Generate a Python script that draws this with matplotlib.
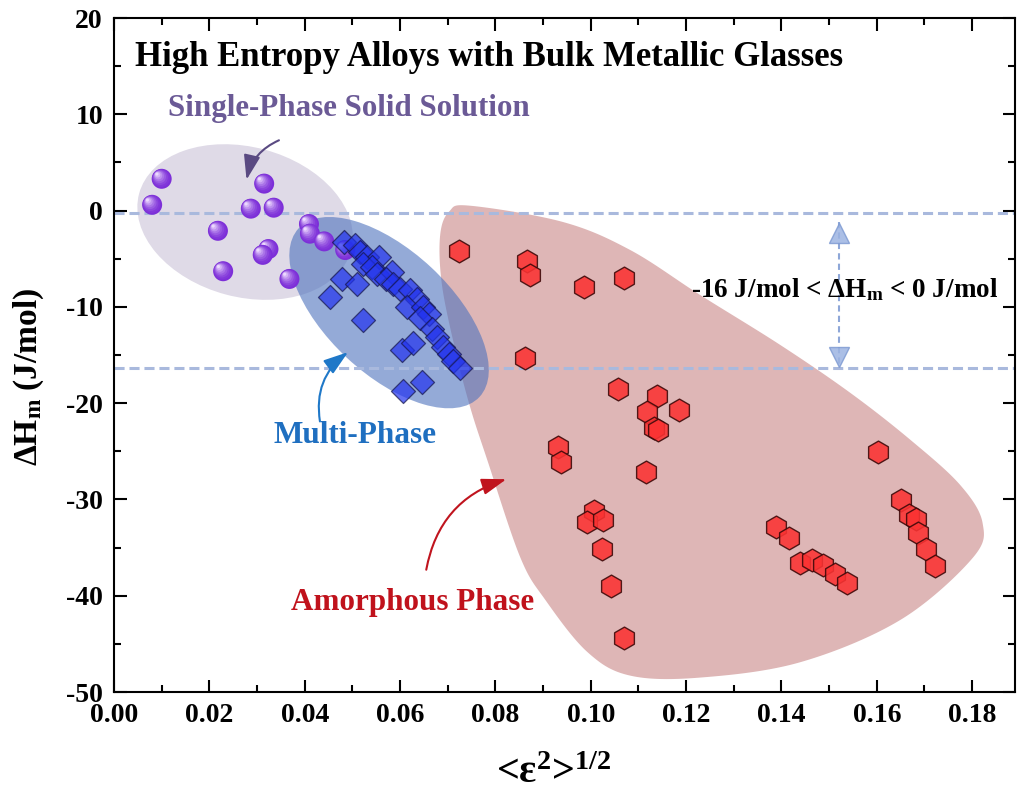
import numpy as np
import matplotlib
matplotlib.use("Agg")
import matplotlib.pyplot as plt
from matplotlib import transforms
from matplotlib.patches import Ellipse, Polygon, FancyArrowPatch
from matplotlib.ticker import MultipleLocator, FormatStrFormatter
from matplotlib.colors import to_rgb

# ---- data -----------------------------------------------------------------
# single-phase solid solution alloys
sphere_x = [0.0100, 0.0080, 0.0315, 0.0287, 0.0335, 0.0218, 0.0409, 0.0411,
            0.0441, 0.0324, 0.0312, 0.0229, 0.0368, 0.0485]
sphere_y = [3.3, 0.6, 2.8, 0.2, 0.3, -2.1, -1.4, -2.4,
            -3.2, -4.0, -4.6, -6.3, -7.1, -4.1]

# multi-phase alloys
dia_x = [0.0483, 0.0506, 0.0516, 0.0530, 0.0555, 0.0523, 0.0541, 0.0551,
         0.0583, 0.0571, 0.0586, 0.0600, 0.0478, 0.0509, 0.0453, 0.0621,
         0.0635, 0.0614, 0.0649, 0.0660, 0.0642, 0.0523, 0.0667, 0.0677,
         0.0691, 0.0702, 0.0712, 0.0726, 0.0604, 0.0628, 0.0607, 0.0646]
dia_y = [-3.3, -3.6, -4.3, -4.8, -4.8, -5.5, -5.9, -6.6,
         -6.4, -7.1, -7.6, -8.1, -7.1, -7.6, -9.0, -8.3,
         -9.2, -10.0, -10.0, -10.7, -11.2, -11.4, -12.3, -13.1,
         -14.2, -14.9, -15.6, -16.4, -14.5, -13.8, -18.7, -17.8]

# bulk metallic glasses (amorphous)
hex_x = [0.0723, 0.0866, 0.0872, 0.0985, 0.1069, 0.0863, 0.1057, 0.1138,
         0.1118, 0.1186, 0.1132, 0.1142, 0.0932, 0.0937, 0.1116, 0.1006,
         0.0992, 0.1026, 0.1023, 0.1042, 0.1069, 0.1603, 0.1651, 0.1667,
         0.1683, 0.1686, 0.1704, 0.1723, 0.1389, 0.1415, 0.1440, 0.1464,
         0.1487, 0.1513, 0.1538]
hex_y = [-4.2, -5.2, -6.7, -7.9, -7.0, -15.3, -18.5, -19.3,
         -20.9, -20.7, -22.6, -22.8, -24.6, -26.1, -27.1, -31.2,
         -32.3, -32.1, -35.2, -39.0, -44.4, -25.1, -30.1, -31.6,
         -32.0, -33.5, -35.1, -36.9, -32.9, -34.0, -36.6, -36.3,
         -36.8, -37.7, -38.7]

# band limits of the mixing enthalpy window
band_top = -0.3
band_bottom = -16.3

# outline of the amorphous-phase region
amorph_x = [0.0748, 0.0942, 0.1083, 0.1230, 0.1398, 0.1545, 0.1671, 0.1775,
            0.1822, 0.1801, 0.1650, 0.1440, 0.1230, 0.1083, 0.0993, 0.0905,
            0.0852, 0.0783, 0.0747, 0.0716, 0.0688, 0.0684, 0.0703]
amorph_y = [0.50, -1.19, -4.10, -8.78, -13.97, -18.95, -23.83, -28.50,
            -32.45, -36.09, -42.5, -46.9, -48.5, -48.3, -45.85, -40.45,
            -35.99, -25.9, -20.4, -14.49, -7.74, -2.64, -0.10]

# ---- style ------------------------------------------------------------------
plt.rcParams["font.family"] = ["Liberation Serif", "DejaVu Serif"]
plt.rcParams["font.weight"] = "bold"
plt.rcParams["mathtext.fontset"] = "custom"
plt.rcParams["mathtext.rm"] = "Liberation Serif:bold"
plt.rcParams["mathtext.bf"] = "Liberation Serif:bold"
plt.rcParams["mathtext.it"] = "Liberation Serif:italic:bold"
plt.rcParams["mathtext.default"] = "bf"

fig = plt.figure(figsize=(10.19, 7.98), dpi=100)
ax = fig.add_axes([114 / 1019, 1 - 692 / 798, (1015 - 114) / 1019, (692 - 18) / 798])
ax.set_xlim(0, 0.189)
ax.set_ylim(-50, 20)


def pt_trans(cx, cy):
    """Transform for shapes sized in points and centred on a data position."""
    return (transforms.Affine2D().scale(1 / 72) + fig.dpi_scale_trans
            + transforms.ScaledTranslation(cx, cy, ax.transData))


def smooth_closed(xs, ys, n=30):
    pts = ax.transData.transform(np.column_stack([xs, ys]))
    P = np.vstack([pts[-1], pts, pts[0], pts[1]])
    t = np.linspace(0, 1, n, endpoint=False)[:, None]
    out = []
    for i in range(1, len(pts) + 1):
        p0, p1, p2, p3 = P[i - 1], P[i], P[i + 1], P[i + 2]
        out.append(0.5 * (2 * p1 + (-p0 + p2) * t
                          + (2 * p0 - 5 * p1 + 4 * p2 - p3) * t ** 2
                          + (-p0 + 3 * p1 - 3 * p2 + p3) * t ** 3))
    return ax.transData.inverted().transform(np.vstack(out))


# ---- phase regions ----------------------------------------------------------
ax.add_patch(Polygon(smooth_closed(amorph_x, amorph_y), closed=True,
                     facecolor="#deb6b6", edgecolor="none", zorder=1))
ax.add_patch(Ellipse((0, 0), 158, 108, angle=-15, transform=pt_trans(0.0275, -1.19),
                     facecolor="#dfdae7", edgecolor="none", zorder=1.1))
ax.add_patch(Ellipse((0, 0), 178, 89, angle=-43, transform=pt_trans(0.0577, -10.6),
                     facecolor="#4d72bd", alpha=0.6, edgecolor="none", zorder=1.2))

# ---- enthalpy window ----------------------------------------------------------
for yb in (band_top, band_bottom):
    ax.axhline(yb, color="#a9b9dd", lw=2.2, linestyle=(0, (3.3, 1.6)), zorder=2)

arrow_x = 0.1521
ax.plot([arrow_x, arrow_x], [band_top - 0.9, band_bottom], color="#8ea7d8",
        lw=1.5, linestyle=(0, (3, 2)), zorder=2)
ax.plot([arrow_x], [band_top - 2.0], marker="^", ms=15, mfc="#9db4e2",
        mec="#7f9bd3", alpha=0.85, ls="none", zorder=2.1)
ax.plot([arrow_x], [band_bottom + 1.1], marker="v", ms=15, mfc="#9db4e2",
        mec="#7f9bd3", alpha=0.85, ls="none", zorder=2.1)
ax.text(0.1532, -8.26, "-16 J/mol < ΔH$_{\\rm m}$ < 0 J/mol", fontsize=19.5,
        fontweight="bold", ha="center", va="center", zorder=6)

# ---- markers ---------------------------------------------------------------
sphere_d = 14.4
rim = np.array(to_rgb("#7d2fd8"))
glow = np.array(to_rgb("#ecd9ff"))
n_layers = 7
for xs, ys in zip(sphere_x, sphere_y):
    ax.scatter([xs], [ys], s=sphere_d ** 2, color=rim, edgecolors="none", zorder=3)
    for k in range(1, n_layers + 1):
        f = 1 - k / (n_layers + 1.3)
        off = (1 - f) * sphere_d * 0.28
        tr = transforms.offset_copy(ax.transData, fig=fig, x=-off, y=off, units="points")
        col = rim + (glow - rim) * (k / n_layers) ** 1.6
        ax.scatter([xs], [ys], s=(sphere_d * f) ** 2, color=col,
                   edgecolors="none", transform=tr, zorder=3)

ax.scatter(dia_x, dia_y, marker="D", s=150, facecolor="#2233ee", alpha=0.7,
           edgecolors="#15154a", linewidths=0.9, zorder=4)
ax.scatter(hex_x, hex_y, marker="h", s=270, facecolor="#fb3232", alpha=0.88,
           edgecolors="#3a0808", linewidths=1.0, zorder=5)

# ---- labels and arrows --------------------------------------------------------
ax.text(0.0044, 15.9, "High Entropy Alloys with Bulk Metallic Glasses",
        fontsize=25, fontweight="bold", ha="left", va="center", zorder=6)
ax.text(0.0493, 10.64, "Single-Phase Solid Solution", fontsize=22.3,
        fontweight="bold", color="#6b5a96", ha="center", va="center", zorder=6)
ax.text(0.0506, -23.4, "Multi-Phase", fontsize=22.5, fontweight="bold",
        color="#1f6fc0", ha="center", va="center", zorder=6)
ax.text(0.0627, -40.75, "Amorphous Phase", fontsize=22.4, fontweight="bold",
        color="#c0121c", ha="center", va="center", zorder=6)

arrows = [
    ((0.0346, 7.3), (0.0278, 3.2), 0.25, "#5a4a82"),
    ((0.0432, -21.9), (0.0491, -14.7), -0.3, "#1f78c8"),
    ((0.0655, -37.3), (0.0823, -27.9), -0.3, "#c0141e"),
]
for a, b, rad, col in arrows:
    ax.add_patch(FancyArrowPatch(a, b, connectionstyle=f"arc3,rad={rad}",
                                 arrowstyle="-|>,head_length=0.75,head_width=0.25",
                                 mutation_scale=20, lw=1.5, color=col,
                                 shrinkA=0, shrinkB=0, zorder=6))

# ---- axes -------------------------------------------------------------------
ax.xaxis.set_major_locator(MultipleLocator(0.02))
ax.xaxis.set_minor_locator(MultipleLocator(0.01))
ax.yaxis.set_major_locator(MultipleLocator(10))
ax.yaxis.set_minor_locator(MultipleLocator(5))
ax.xaxis.set_major_formatter(FormatStrFormatter("%.2f"))
ax.yaxis.set_major_formatter(FormatStrFormatter("%d"))
ax.tick_params(which="both", direction="in", top=True, right=True, width=1.5,
               labelsize=20, pad=8)
ax.tick_params(which="major", length=9)
ax.tick_params(which="minor", length=5)
for lab in ax.get_xticklabels() + ax.get_yticklabels():
    lab.set_fontweight("bold")
for sp in ax.spines.values():
    sp.set_linewidth(1.5)

ax.set_xlabel("<ε$^{2}$>$^{1/2}$", fontsize=29, fontweight="bold")
ax.xaxis.set_label_coords(0.488, -0.093)
ax.set_ylabel("ΔH$_{\\rm m}$ (J/mol)", fontsize=24, fontweight="bold")
ax.yaxis.set_label_coords(-0.076, 0.468)

fig.savefig("out.png", dpi=100)
